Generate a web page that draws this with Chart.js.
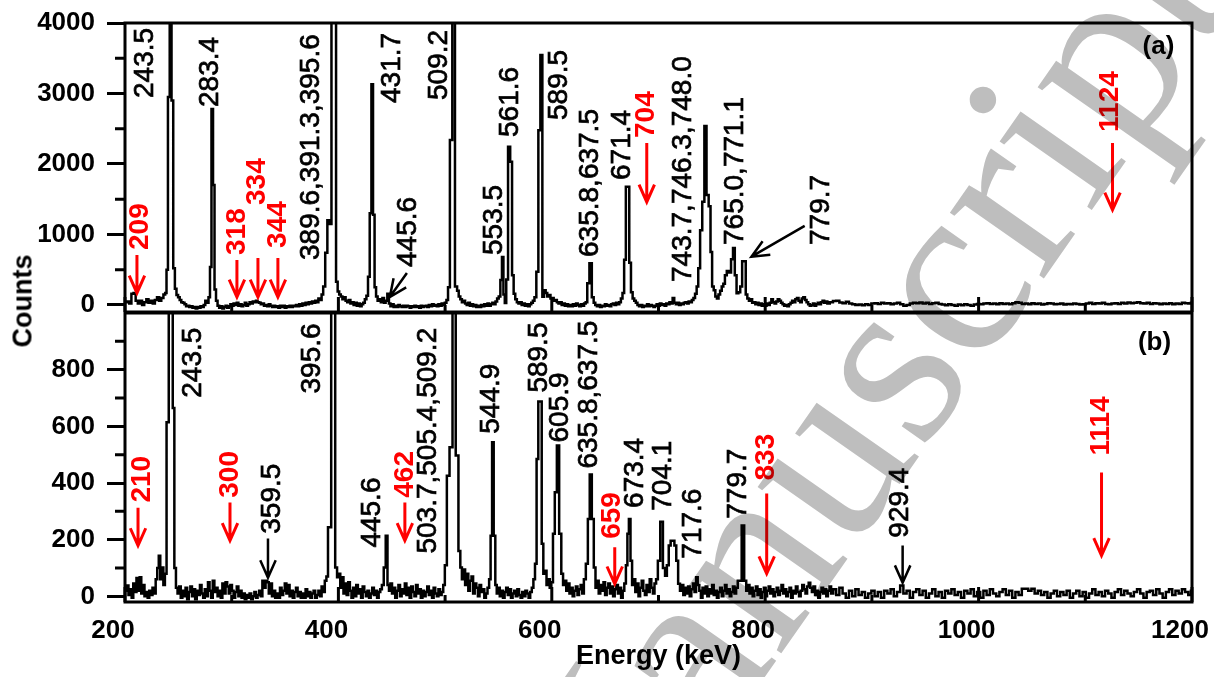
<!DOCTYPE html>
<html>
<head>
<meta charset="utf-8">
<script src="https://cdn.jsdelivr.net/npm/chart.js@4.4.1/dist/chart.umd.min.js"></script>
<style>
  body { margin: 0; background: #fff; }
  #wrap { position: relative; width: 1214px; height: 677px; overflow: hidden; }
  canvas { position: absolute; left: 0; }
  #topChart { top: 0; }
  #botChart { top: 312px; }
  #ylab { position: absolute; left: 23px; top: 301px; transform: translate(-50%, -50%) rotate(-90deg);
          font: bold 27px 'Liberation Sans', Arial, sans-serif; white-space: nowrap; }
</style>
</head>
<body>
<div id="wrap">
  <canvas id="topChart" width="1214" height="312"></canvas>
  <canvas id="botChart" width="1214" height="365"></canvas>
  <div id="ylab">Counts</div>
</div>
<script>
// ---- tick values ----
const xTicks = [200, 400, 600, 800, 1000, 1200];
const xMinorTicks = [300, 500, 700, 900, 1100];
const topYTicks = [0, 1000, 2000, 3000, 4000];
const topYMinor = [500, 1500, 2500, 3500];
const botYTicks = [0, 200, 400, 600, 800];
const botYMinor = [100, 300, 500, 700, 900];

// ---- spectrum (a): [energy keV, counts] ----
const topSpectrum = [
  [201,40],[203,50],[205,20],[207,160],[209,170],[211,60],[213,20],[215,60],[217,0],[219,40],[221,80],[223,30],
  [225,60],[227,20],[229,70],[231,110],[233,60],[235,100],[237,150],[238.3,170],[239.5,500],[241,2950],[242.8,4400],
  [244.4,2900],[246,520],[247.5,230],[249,140],[250.5,110],[252,70],[253.5,40],[255,30],[256.5,10],[258,-20],
  [259.5,-10],[261,-30],[262.5,-20],[264,-40],[265.5,-30],[267,-50],[268.5,-30],[270,-40],[271.5,-20],[273,-30],
  [274.5,0],[276,60],[277.5,30],[279,110],[280.3,540],[281.8,2780],[283.2,1700],[284.6,220],[286,60],[287.5,-10],
  [289,-40],[290.5,-20],[292,-50],[293.5,-30],[295,-10],[296.5,-40],[298,-20],[299.5,10],[301,-10],[302.5,20],
  [304,0],[305.5,30],[307,-10],[308.5,10],[310,-20],[311.5,0],[313,30],[314.5,-10],[316,10],[317.5,40],[319,20],
  [320.5,50],[322,40],[323.5,60],[325,40],[326.5,30],[328,10],[329.5,20],[331,-10],[332.5,0],[334,-20],[335.5,10],
  [337,-10],[338.5,-30],[340,-10],[341.5,-30],[343,-20],[344.5,-40],[346,-10],[347.5,-30],[349,-10],[350.5,-40],
  [352,-20],[353.5,-30],[355,-10],[356.5,-30],[358,-10],[359.5,-20],[361,0],[362.5,-20],[364,10],[365.5,-10],
  [367,20],[368.5,0],[370,30],[371.5,10],[373,40],[374.5,20],[376,50],[377.5,30],[379,60],[380.5,40],[382,90],
  [383.5,70],[385,150],[386.5,260],[388.8,740],[390.5,1200],[392,1150],[395,4400],[397,4400],[398.6,330],[400,190],
  [401.5,150],[403,120],[404.5,80],[406,110],[407.5,60],[409,40],[410.5,70],[412,20],[413.5,40],[415,0],[416.5,30],
  [418,-10],[419.5,20],[421,-20],[422.5,10],[424,30],[425.5,80],[427,130],[428.5,400],[430.2,1300],[431.7,3130],
  [433.2,1280],[434.6,250],[436,120],[437.5,60],[439,80],[440.5,40],[442,100],[443.5,30],[445,60],[446.7,160],
  [448,20],[449.5,-20],[451,10],[452.5,-30],[454,-10],[455.5,-30],[457,0],[458.5,-20],[460,-30],[461.5,-10],
  [463,-30],[464.5,-10],[466,-20],[467.5,-40],[469,-20],[470.5,-30],[472,-10],[473.5,-30],[475,-20],[476.5,-40],
  [478,-10],[479.5,-30],[481,-20],[482.5,-10],[484,-30],[485.5,0],[487,-20],[488.5,10],[490,-10],[491.5,0],
  [493,-20],[494.5,10],[496,-10],[497.5,20],[499,0],[500.5,30],[502,70],[503.5,250],[505.5,2340],[508,4400],
  [510.5,260],[512,200],[513.5,120],[515,80],[516.5,40],[518,60],[519.5,20],[521,0],[522.5,30],[524,-10],
  [525.5,10],[527,-20],[528.5,0],[530,-30],[531.5,-10],[533,-30],[534.5,0],[536,-20],[537.5,10],[539,-10],
  [540.5,20],[542,-10],[543.5,10],[545,30],[546.5,10],[548,50],[549.5,90],[551,120],[552.6,355],[554,680],
  [555.3,150],[556.6,28],[558,360],[560,2245],[562,2030],[563.5,420],[565,160],[566.5,80],[568,40],[569.5,20],
  [571,40],[572.5,0],[574,20],[575.5,-10],[577,10],[578.5,-20],[580,10],[581.5,30],[583,60],[584.5,110],
  [586.5,470],[588.3,2480],[590.3,3546],[592,118],[593.5,210],[595,170],[596.5,120],[598,140],[599.5,90],
  [601,100],[602.5,60],[604,70],[605.5,40],[607,20],[608.5,40],[610,0],[611.5,20],[613,-10],[614.5,10],[616,-20],
  [617.5,0],[619,-20],[620.5,10],[622,-10],[623.5,20],[625,0],[626.5,-20],[628,10],[629.5,-10],[631,20],
  [632.5,40],[634,307],[636.5,590],[638.5,110],[640,30],[641.5,0],[643,-20],[644.5,0],[646,-30],[647.5,-10],
  [649,-20],[650.5,10],[652,-10],[653.5,0],[655,-20],[656.5,10],[658,20],[659.5,0],[661,30],[662.5,10],[664,40],
  [665.5,90],[667,170],[668.6,640],[670.2,1678],[671.8,1678],[673.4,600],[675,180],[676.5,90],[678,60],
  [679.5,30],[681,0],[682.5,-20],[684,0],[685.5,-30],[687,-10],[688.5,-20],[690,10],[691.5,-20],[693,0],
  [694.5,-10],[696,-30],[697.5,-10],[699,10],[700.5,-10],[702,20],[703.5,0],[705,10],[706.5,-10],[708,20],
  [709.5,10],[711,40],[712.5,20],[714,100],[715.5,30],[717,10],[718.5,30],[720,0],[721.5,20],[723,10],[724.5,30],
  [726,40],[727.5,20],[729,50],[730.5,40],[732,70],[733.5,100],[735,160],[736.5,260],[738,520],[740,1060],
  [742,1465],[744,2540],[746,1560],[748,1400],[749.5,750],[751,260],[752.5,210],[754,120],[755.5,90],[757,150],
  [758.5,200],[760,260],[761.5,300],[763,420],[765,480],[767,460],[769,650],[770.7,808],[772.3,420],[774,165],
  [775.7,180],[777.5,260],[779.3,620],[781,620],[782.5,150],[784,90],[785.5,60],[787,80],[788.5,30],[790,40],
  [791.5,10],[793,30],[794.5,0],[796,20],[797.5,-10],[799,10],[800.5,-10],[802,20],[803.5,0],[805,30],[806.5,80],
  [808,40],[809.5,20],[811,50],[812.5,80],[814,60],[815.5,30],[817,10],[818.5,-10],[820,0],[821.5,-20],[823,10],
  [824.5,30],[826,60],[827.5,40],[829,80],[830.5,100],[832,60],[833.5,40],[835,90],[836.5,110],[838,70],
  [839.5,40],[841,10],[842.5,-10],[844,0],[845.5,20],[847,-10],[848.5,10],[850,30],[851.5,10],[853,40],
  [854.5,60],[856,30],[857.5,50],[859,20],[862,40],[865,55],[868,60],[871,35],[874,25],[877,45],[880,20],[883,10],
  [886,0],[889,5],[892,-5],[895,10],[898,0],[901,20],[904,25],[907,15],[910,30],[913,20],[916,25],[919,10],
  [922,20],[925,30],[928,10],[931,-10],[934,0],[937,20],[940,30],[943,25],[946,35],[949,20],[952,30],[955,15],
  [958,25],[961,30],[964,15],[967,5],[970,-5],[973,10],[976,0],[979,-10],[982,5],[985,-5],[988,10],[991,0],
  [994,-10],[997,5],[1000,15],[1003,10],[1006,20],[1009,25],[1012,15],[1015,20],[1018,10],[1021,25],[1024,15],
  [1027,20],[1030,10],[1033,25],[1036,40],[1039,30],[1042,15],[1045,20],[1048,10],[1051,25],[1054,15],[1057,20],
  [1060,5],[1063,15],[1066,25],[1069,20],[1072,10],[1075,15],[1078,20],[1081,5],[1084,15],[1087,10],[1090,20],
  [1093,15],[1096,5],[1099,10],[1102,20],[1105,30],[1108,15],[1111,25],[1114,20],[1117,30],[1120,15],[1123,10],
  [1126,20],[1129,25],[1132,15],[1135,30],[1138,20],[1141,35],[1144,25],[1147,30],[1150,40],[1153,25],[1156,20],
  [1159,30],[1162,15],[1165,25],[1168,20],[1171,10],[1174,20],[1177,15],[1180,25],[1183,10],[1186,20],[1189,15],
  [1192,30],[1195,25],[1198,20],[1200,30]
];

// ---- spectrum (b): [energy keV, counts] ----
const botSpectrum = [
  [201,20],[202.5,38],[204,5],[205.5,25],[207,-5],[208.5,45],[210,15],[211.5,65],[213,20],[214.5,67],[216,10],
  [217.5,40],[219,0],[220.5,15],[222,-5],[223.5,20],[225,5],[226.5,30],[228,10],[229.5,60],[231,100],[232.3,143],
  [233.8,60],[235.2,102],[236.7,40],[238.1,80],[239.8,614],[242.2,1150],[244,1150],[245.5,665],[247,100],
  [248.5,30],[250,10],[251.5,35],[253,-5],[254.5,20],[256,0],[257.5,30],[259,-10],[260.5,15],[262,35],[263.5,0],
  [265,25],[266.5,-10],[268,20],[269.5,5],[271,40],[272.5,10],[274,-5],[275.5,25],[277,0],[278.5,50],[280,20],
  [281.5,-5],[283,55],[284.5,15],[286,30],[287.5,0],[289,20],[290.5,-5],[292,45],[293.5,10],[295,50],[296.5,35],
  [298,10],[299.5,40],[301,20],[302.5,-5],[304,15],[305.5,35],[307,0],[308.5,20],[310,-5],[311.5,10],[313,-10],
  [314.5,5],[316,-5],[317.5,10],[319,-10],[320.5,0],[322,15],[323.5,-5],[325,5],[326.5,20],[328,0],[329.5,55],
  [331,30],[332.5,55],[334,50],[335.5,10],[337,45],[338.5,0],[340,20],[341.5,-5],[343,10],[344.5,-5],[346,30],
  [347.5,5],[349,20],[350.5,45],[352,10],[353.5,40],[355,0],[356.5,20],[358,-5],[359.5,15],[361,30],[362.5,0],
  [364,15],[365.5,-5],[367,10],[368.5,-5],[370,25],[371.5,0],[373,15],[374.5,-5],[376,10],[377.5,20],[379,-5],
  [380.5,5],[382,20],[383.5,0],[385,35],[386.5,15],[388,55],[389.5,70],[391,244],[392.5,244],[394,1150],
  [396,1150],[398,102],[399.5,67],[401,80],[402.5,30],[404,67],[405.5,10],[407,45],[408.5,5],[410,50],[411.5,20],
  [413,-5],[414.5,30],[416,0],[417.5,40],[419,10],[420.5,25],[422,-5],[423.5,35],[425,15],[426.5,0],[428,20],
  [429.5,-5],[431,10],[432.5,30],[434,5],[435.5,20],[437,-5],[438.5,15],[440,25],[441.5,40],[443.5,102],
  [445.2,214],[446.8,40],[448,20],[449.5,45],[451,10],[452.5,30],[454,-5],[455.5,20],[457,40],[458.5,0],[460,25],
  [461.5,10],[463,45],[464.5,5],[466,30],[467.5,-5],[469,35],[470.5,15],[472,0],[473.5,40],[475,10],[476.5,25],
  [478,-5],[479.5,20],[481,0],[482.5,15],[484,35],[485.5,5],[487,20],[488.5,-5],[490,30],[491.5,10],[493,0],
  [494.5,25],[496,5],[497.5,15],[499,40],[500.5,110],[502.8,426],[505.5,526],[508.4,1150],[511.5,497],
  [513.5,160],[515,102],[516.5,60],[518,95],[519.5,40],[521,80],[522.5,20],[524,55],[525.5,70],[527,10],
  [528.5,45],[530,30],[531.5,0],[533,40],[534.5,15],[536,25],[537.5,-5],[539,10],[540.5,30],[542,60],[543.3,214],
  [544.8,544],[546.3,214],[547.8,40],[549,10],[550.5,30],[552,0],[553.5,20],[555,-5],[556.5,15],[558,30],
  [559.5,5],[561,25],[562.5,-5],[564,10],[565.5,20],[567,0],[568.5,25],[570,5],[571.5,-5],[573,15],[574.5,0],
  [576,20],[577.5,10],[579,-5],[580.5,15],[582,30],[583.5,60],[585,115],[586.5,485],[588.2,688],[589.8,688],
  [591.3,186],[592.8,80],[594.3,90],[595.8,40],[597.3,60],[598.8,30],[600.3,50],[601.9,221],[603.7,367],
  [605.8,532],[608,221],[609.8,80],[611.3,40],[612.8,55],[614.3,20],[615.8,45],[617.3,10],[618.8,30],[620.3,0],
  [621.8,20],[623.3,35],[624.8,5],[626.3,25],[627.8,40],[629.3,10],[630.8,60],[633,115],[634.6,273],[636.5,430],
  [638.5,273],[640.2,102],[641.7,30],[643.2,55],[644.7,10],[646.2,40],[647.7,20],[649.2,50],[650.7,5],[652.2,30],
  [653.7,45],[655.2,10],[656.7,35],[658.2,0],[659.7,25],[661.2,40],[662.7,10],[664.2,30],[665.7,-5],[667.2,20],
  [668.7,45],[670.2,110],[671.5,221],[673,273],[674.5,126],[676,40],[677.5,60],[679,15],[680.5,45],[682,0],
  [683.5,30],[685,55],[686.5,20],[688,5],[689.5,40],[691,15],[692.5,60],[694,30],[695.5,10],[697,45],[698.5,60],
  [700.3,126],[703,263],[705.3,100],[707,73],[708.7,110],[710.5,179],[712.3,196],[714,196],[715.8,179],
  [717.5,126],[719.3,44],[721,20],[722.5,40],[724,5],[725.5,30],[727,10],[728.5,35],[730,0],[731.5,25],[733,45],
  [734.5,15],[736,67],[737.5,40],[739,20],[740.5,-5],[742,30],[743.5,10],[745,35],[746.5,0],[748,25],[749.5,10],
  [751,40],[752.5,5],[754,20],[755.5,-5],[757,15],[758.5,30],[760,0],[761.5,20],[763,40],[764.5,10],[766,25],
  [767.5,0],[769,15],[770.5,35],[772,10],[773.5,30],[775,55],[776.7,55],[779.2,250],[781.4,55],[783,20],
  [784.5,40],[786,10],[787.5,30],[789,0],[790.5,20],[792,35],[793.5,5],[795,25],[796.5,-5],[798,15],[799.5,30],
  [801,0],[802.5,20],[804,35],[805.5,10],[807,25],[808.5,0],[810,15],[811.5,30],[813,5],[814.5,20],[816,40],
  [817.5,10],[819,25],[820.5,0],[822,15],[823.5,30],[825,-5],[826.5,20],[828,10],[829.5,35],[831,15],[832.5,0],
  [834,20],[835.5,40],[837,25],[838.5,10],[840,35],[841.5,48],[843,30],[844.5,15],[846,35],[847.5,5],[849,20],
  [850.5,-5],[852,15],[853.5,30],[855,10],[856.5,25],[858,0],[859.5,20],[861,35],[862.5,10],[865,25],[868,5],
  [871,30],[874,10],[877,-5],[880,20],[883,0],[886,25],[889,5],[892,15],[895,-5],[898,10],[901,20],[904,0],
  [907,15],[910,-5],[913,20],[916,10],[919,25],[922,0],[925,15],[928,38],[931,10],[934,20],[937,-5],[940,15],
  [943,25],[946,5],[949,20],[952,-5],[955,10],[958,25],[961,0],[964,15],[967,-5],[970,20],[973,10],[976,25],
  [979,5],[982,15],[985,-5],[988,20],[991,10],[994,25],[997,0],[1000,15],[1003,-5],[1006,20],[1009,5],[1012,25],
  [1015,10],[1018,0],[1021,15],[1024,25],[1027,5],[1030,20],[1033,-5],[1036,15],[1039,5],[1042,27],[1045,27],
  [1048,20],[1051,27],[1054,10],[1057,20],[1060,5],[1063,15],[1066,-5],[1069,10],[1072,20],[1075,0],[1078,15],
  [1081,5],[1084,20],[1087,-5],[1090,10],[1093,20],[1096,0],[1099,15],[1102,-5],[1105,10],[1108,25],[1111,5],
  [1114,15],[1117,0],[1120,20],[1123,10],[1126,-5],[1129,15],[1132,25],[1135,5],[1138,20],[1141,10],[1144,0],
  [1147,15],[1150,25],[1153,10],[1156,-5],[1159,15],[1162,20],[1165,5],[1168,25],[1171,10],[1174,-5],[1177,15],
  [1180,25],[1183,5],[1186,20],[1189,10],[1192,25],[1195,15],[1198,5],[1200,20]
];

// ---- peak labels: [text, energy, counts where text starts] ----
const topLabels = [
  ['243.5', 218.7, 2936], ['283.4', 279.6, 2809], ['389.6,391.3,395.6', 374.5, 638], ['431.7', 450.1, 2865],
  ['445.6', 465.1, 539], ['509.2', 494.1, 2908], ['553.5', 545.7, 709], ['561.6', 560.7, 2383],
  ['589.5', 606.6, 2624], ['635.8,637.5', 635.8, 681], ['671.4', 666.5, 1773],
  ['743.7,746.3,748.0', 723.0, 326], ['765.0,771.1', 771.7, 851], ['779.7', 852.9, 851]
];
// red marks: [text, energy, counts, arrow energy, arrow from, arrow to]
const topMarks = [
  ['209', 214.1, 780, 211.2, 709, 170], ['318', 304.9, 709, 304.9, 638, 113],
  ['334', 323.7, 1418, 324.6, 667, 113], ['344', 343.3, 809, 343.3, 667, 113],
  ['704', 688.1, 2369, 689.0, 2298, 1461], ['1124', 1123.7, 2454, 1125.5, 2298, 1348]
];
const topArrows = [[464.2, 454, 448.2, 113], [837.0, 1121, 787.1, 685]];

const botLabels = [
  ['243.5', 263.7, 701], ['395.6', 375.2, 716], ['359.5', 337.7, 221], ['445.6', 431.4, 172],
  ['503.7,505.4,509.2', 484.1, 151], ['544.9', 542.9, 574], ['589.5', 587.8, 719], ['605.9', 608.4, 543],
  ['635.8,637.5', 634.9, 451], ['673.4', 678.7, 312], ['704.1', 704.9, 302], ['717.6', 733.0, 133],
  ['779.7', 775.2, 274], ['929.4', 926.9, 207]
];
const botMarks = [
  ['210', 215.9, 331, 212.2, 313, 179], ['300', 298.4, 348, 298.4, 331, 197],
  ['462', 462.3, 348, 462.3, 331, 197], ['659', 656.7, 203, 659.0, 173, 44],
  ['833', 801.4, 409, 801.4, 363, 80], ['1114', 1115.2, 497, 1115.2, 437, 144]
];
const botArrows = [[334.0, 204, 334.0, 66], [928.8, 179, 928.8, 48]];

const FAMILY = "'Liberation Sans', Arial, sans-serif";
Chart.defaults.font.family = FAMILY;
Chart.defaults.color = '#000';

function vtext(ctx, text, x, y, font, color, thicken) {
  ctx.save();
  ctx.translate(x, y);
  ctx.rotate(-Math.PI / 2);
  ctx.font = font;
  ctx.fillStyle = color;
  ctx.textAlign = 'left';
  ctx.textBaseline = 'middle';
  ctx.fillText(text, 0, 0);
  if (thicken) {
    ctx.strokeStyle = color;
    ctx.lineWidth = thicken;
    ctx.strokeText(text, 0, 0);
  }
  ctx.restore();
}

function arrow(ctx, x1, y1, x2, y2, color, lw) {
  const a = Math.atan2(y2 - y1, x2 - x1), L = 19, h = 24 * Math.PI / 180;
  ctx.save();
  ctx.strokeStyle = color;
  ctx.lineWidth = lw;
  ctx.beginPath();
  ctx.moveTo(x1, y1);
  ctx.lineTo(x2, y2);
  ctx.moveTo(x2 - L * Math.cos(a - h), y2 - L * Math.sin(a - h));
  ctx.lineTo(x2, y2);
  ctx.lineTo(x2 - L * Math.cos(a + h), y2 - L * Math.sin(a + h));
  ctx.stroke();
  ctx.restore();
}

// grey "Manuscript" stamp across both panels
function drawWatermark(ctx, offsetY) {
  const text = 'Manuscript', idx = 5, size = 250, ang = -55 * Math.PI / 180;
  const anchor = [962, 295];
  ctx.save();
  ctx.font = size + "px 'Liberation Serif', serif";
  const along = ctx.measureText(text.slice(0, idx)).width + ctx.measureText(text[idx]).width / 2;
  const lift = 0.23 * size;
  const dx = Math.cos(ang), dy = Math.sin(ang), ux = Math.sin(ang), uy = -Math.cos(ang);
  ctx.translate(anchor[0] - along * dx - lift * ux, anchor[1] - along * dy - lift * uy - offsetY);
  ctx.rotate(ang);
  ctx.globalCompositeOperation = 'multiply';
  ctx.fillStyle = '#bebebe';
  ctx.fillText(text, 0, 0);
  ctx.restore();
}

function panelPlugin(p) {
  return {
    id: 'panel',
    afterDraw(chart) {
      const ctx = chart.ctx, xs = chart.scales.x, ys = chart.scales.y, a = chart.chartArea;
      ctx.save();
      ctx.strokeStyle = '#000';
      ctx.lineWidth = 3;
      ctx.strokeRect(a.left, a.top, a.right - a.left, a.bottom - a.top);
      ctx.beginPath();
      p.yMinor.forEach(v => { const y = ys.getPixelForValue(v); ctx.moveTo(a.left - 10, y); ctx.lineTo(a.left, y); });
      xTicks.forEach(v => { const x = xs.getPixelForValue(v); ctx.moveTo(x, a.bottom); ctx.lineTo(x, a.bottom - 15); });
      xMinorTicks.forEach(v => { const x = xs.getPixelForValue(v); ctx.moveTo(x, a.bottom); ctx.lineTo(x, a.bottom - 7); });
      ctx.stroke();
      ctx.restore();

      p.labels.forEach(([t, e, c]) =>
        vtext(ctx, t, xs.getPixelForValue(e), ys.getPixelForValue(c), '28px ' + FAMILY, '#000', 0.7));
      p.marks.forEach(([t, e, c, ae, c1, c2]) => {
        vtext(ctx, t, xs.getPixelForValue(e), ys.getPixelForValue(c), 'bold 28px ' + FAMILY, '#ff0000', 0);
        const x = xs.getPixelForValue(ae);
        arrow(ctx, x, ys.getPixelForValue(c1), x, ys.getPixelForValue(c2), '#ff0000', 3);
      });
      p.arrows.forEach(([e1, c1, e2, c2]) =>
        arrow(ctx, xs.getPixelForValue(e1), ys.getPixelForValue(c1), xs.getPixelForValue(e2), ys.getPixelForValue(c2), '#000', 2.5));

      ctx.save();
      ctx.font = 'bold 26px ' + FAMILY;
      ctx.fillStyle = '#000';
      ctx.textAlign = 'center';
      ctx.textBaseline = 'middle';
      ctx.fillText(p.tag, xs.getPixelForValue(p.tagAt[0]), ys.getPixelForValue(p.tagAt[1]));
      ctx.restore();

      drawWatermark(ctx, p.offsetY);
    }
  };
}

function yAxis(min, max, ticks) {
  return {
    min: min, max: max,
    afterBuildTicks: s => { s.ticks = ticks.map(v => ({ value: v })); },
    afterFit: s => { s.width = 125; s.paddingTop = 0; s.paddingBottom = 0; },
    grid: { drawOnChartArea: false, drawTicks: true, tickLength: 18, tickWidth: 3, tickColor: '#000' },
    border: { display: false },
    ticks: { padding: 12, font: { size: 26, weight: 'bold' }, callback: v => String(v) }
  };
}

function spectrumSet(points) {
  return {
    data: points.map(([x, y]) => ({ x: x, y: y })),
    borderColor: '#000', borderWidth: 2.5, pointRadius: 0, stepped: 'middle', fill: false
  };
}

new Chart(document.getElementById('topChart'), {
  type: 'line',
  data: { datasets: [spectrumSet(topSpectrum)] },
  options: {
    responsive: false, animation: false,
    layout: { padding: { top: 23, right: 22, left: 0, bottom: 0 } },
    plugins: { legend: { display: false }, tooltip: { enabled: false } },
    scales: {
      x: { type: 'linear', min: 200, max: 1200, display: false },
      y: yAxis(-100, 4000, topYTicks)
    }
  },
  plugins: [panelPlugin({ yMinor: topYMinor, labels: topLabels, marks: topMarks, arrows: topArrows,
                          tag: '(a)', tagAt: [1168.6, 3660], offsetY: 0 })]
});

new Chart(document.getElementById('botChart'), {
  type: 'line',
  data: { datasets: [spectrumSet(botSpectrum)] },
  options: {
    responsive: false, animation: false,
    layout: { padding: { top: 1, right: 22, left: 0, bottom: 0 } },
    plugins: { legend: { display: false }, tooltip: { enabled: false } },
    scales: {
      x: {
        type: 'linear', min: 200, max: 1200,
        afterBuildTicks: s => { s.ticks = xTicks.map(v => ({ value: v })); },
        afterFit: s => { s.height = 75; s.paddingLeft = 0; s.paddingRight = 0; },
        grid: { display: false, drawTicks: false },
        border: { display: false },
        ticks: { padding: 13, labelOffset: -12, maxRotation: 0, autoSkip: false,
                 font: { size: 26, weight: 'bold' }, callback: v => String(v) },
        title: { display: true, text: 'Energy (keV)', font: { size: 27, weight: 'bold' },
                 padding: { top: 0, bottom: 4 } }
      },
      y: yAxis(-20, 1000, botYTicks)
    }
  },
  plugins: [panelPlugin({ yMinor: botYMinor, labels: botLabels, marks: botMarks, arrows: botArrows,
                          tag: '(b)', tagAt: [1164.9, 896], offsetY: 312 })]
});
</script>
</body>
</html>
